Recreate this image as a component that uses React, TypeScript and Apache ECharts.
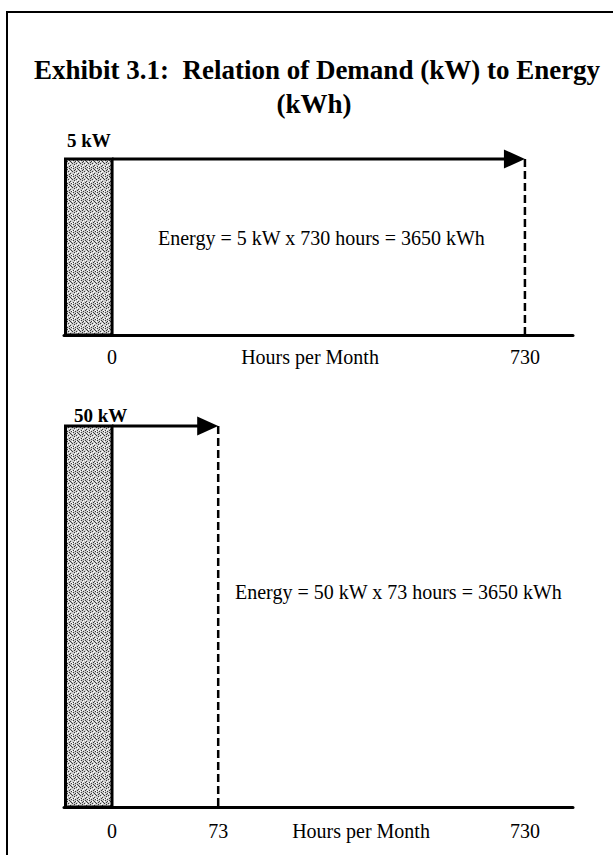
import React, { useEffect, useRef } from 'react';
import * as echarts from 'echarts';

// ---- data ----
const panelKeys = ['top', 'bottom'];
const demandKW = [5, 50];
const hoursUsed = [730, 73];
const energyKWh = [3650, 3650];
const topTickValues = [0, 730];
const bottomTickValues = [0, 73, 730];
const axisTitle = 'Hours per Month';
const titleLines = ['Exhibit 3.1:  Relation of Demand (kW) to Energy', '(kWh)'];

const SERIF = "'Liberation Serif', 'Times New Roman', serif";

function makeStipple(): string {
  const c = document.createElement('canvas');
  c.width = 8;
  c.height = 8;
  const ctx = c.getContext('2d');
  if (!ctx) return '';
  ctx.fillStyle = '#cccccc';
  ctx.fillRect(0, 0, 8, 8);
  const dark = [
    [1, 0], [5, 0], [3, 1], [7, 2], [0, 3], [4, 3], [2, 4], [6, 5],
    [1, 6], [5, 6], [3, 7], [7, 7], [6, 1], [2, 2],
  ];
  ctx.fillStyle = '#3a3a3a';
  dark.forEach(([x, y]) => ctx.fillRect(x, y, 1, 1));
  const light = [[0, 1], [4, 1], [6, 3], [3, 5], [0, 7], [5, 4], [7, 6], [2, 6]];
  ctx.fillStyle = '#ffffff';
  light.forEach(([x, y]) => ctx.fillRect(x, y, 1, 1));
  return c.toDataURL();
}

export default function App() {
  const ref = useRef<HTMLDivElement>(null);
  useEffect(() => {
    if (!ref.current) return;
    const chart = echarts.init(ref.current, undefined, { renderer: 'svg' });
    const stipple = makeStipple();
    const barFill: any = stipple ? { image: stipple, repeat: 'repeat' } : '#bcbcbc';

    const renderPanel = (params: any, api: any) => {
      const h = api.value(0);
      const kw = api.value(1);
      const cs = params.coordSys;
      const p0 = api.coord([0, kw]);
      const p1 = api.coord([h, kw]);
      const pb = api.coord([h, 0]);
      const b0 = api.coord([0, 0]);
      const headLen = 21;
      const headHalf = 9.5;
      return {
        type: 'group',
        children: [
          {
            type: 'rect',
            shape: { x: cs.x + 1.5, y: p0[1], width: p0[0] - cs.x - 1.5, height: b0[1] - p0[1] },
            style: { fill: barFill, stroke: '#000', lineWidth: 3 },
          },
          {
            type: 'line',
            shape: { x1: p0[0], y1: p0[1], x2: p1[0] - headLen + 2, y2: p1[1] },
            style: { stroke: '#000', lineWidth: 3 },
          },
          {
            type: 'polygon',
            shape: { points: [[p1[0], p1[1]], [p1[0] - headLen, p1[1] - headHalf], [p1[0] - headLen, p1[1] + headHalf]] },
            style: { fill: '#000' },
          },
          {
            type: 'line',
            shape: { x1: p1[0], y1: p1[1], x2: pb[0], y2: pb[1] },
            style: { stroke: '#000', lineWidth: 2.5, lineDash: [8, 4] },
          },
        ],
      };
    };

    const labelStyle = { fontFamily: SERIF, fontSize: 20, color: '#000' };
    const bottomMin = -33;
    const bottomMax = 763;
    const kwNamePad = [3, 10];

    const option: any = {
      animation: false,
      backgroundColor: '#fff',
      grid: [
        { left: 64, right: 40, top: 159, height: 176 },
        { left: 64, right: 40, top: 426, height: 381 },
      ],
      xAxis: [
        {
          type: 'value', gridIndex: 0, min: -85, max: 815, position: 'bottom',
          axisLine: { show: true, onZero: false, lineStyle: { color: '#000', width: 3 } },
          axisTick: { show: false }, splitLine: { show: false },
          axisLabel: { customValues: topTickValues, margin: 12, ...labelStyle },
          name: axisTitle, nameLocation: 'middle', nameGap: 12, nameMoveOverlap: false,
          nameTextStyle: { ...labelStyle, verticalAlign: 'top', padding: [0, 17, 0, 0] },
        },
        {
          type: 'value', gridIndex: 1, min: bottomMin, max: bottomMax, position: 'bottom',
          breaks: [{ start: 80, end: 700, gap: '49.7%' }],
          breakArea: { show: false, itemStyle: { color: 'rgba(0,0,0,0)', borderColor: 'rgba(0,0,0,0)', borderWidth: 0 } },
          axisLine: { show: false, onZero: false },
          axisTick: { show: false }, splitLine: { show: false },
          axisLabel: { customValues: bottomTickValues, margin: 14, ...labelStyle },
          name: axisTitle, nameLocation: 'middle', nameGap: 14, nameMoveOverlap: false,
          nameTextStyle: { ...labelStyle, verticalAlign: 'top', padding: [0, 0, 0, 85] },
        },
        {
          type: 'value', gridIndex: 1, min: bottomMin, max: bottomMax, position: 'bottom',
          axisLine: { show: true, onZero: false, lineStyle: { color: '#000', width: 3 } },
          axisTick: { show: false }, splitLine: { show: false }, axisLabel: { show: false },
        },
      ],
      yAxis: panelKeys.map((_, i) => ({
        type: 'value', gridIndex: i, min: 0, max: demandKW[i], position: 'left',
        axisLine: { show: false, onZero: false }, axisTick: { show: false }, axisLabel: { show: false }, splitLine: { show: false },
        name: `${demandKW[i]} kW`, nameLocation: 'end', nameGap: i === 0 ? 9 : 1, nameMoveOverlap: false,
        nameTextStyle: { fontFamily: SERIF, fontSize: 19, fontWeight: 'bold', color: '#000', align: 'left', verticalAlign: 'bottom', padding: [0, 0, 0, kwNamePad[i]] },
      })),
      series: panelKeys.map((_, i) => ({
        type: 'custom', xAxisIndex: i, yAxisIndex: i, silent: true,
        data: [[hoursUsed[i], demandKW[i]]],
        renderItem: renderPanel,
      })),
      graphic: [
        {
          type: 'rect', silent: true, z: 0,
          shape: { x: 7, y: 12, width: 700, height: 900 },
          style: { fill: 'none', stroke: '#000', lineWidth: 2 },
        },
        {
          type: 'text', x: 317, y: 70,
          style: { text: titleLines[0], fontFamily: SERIF, fontSize: 27, fontWeight: 'bold', fill: '#000', textAlign: 'center', textVerticalAlign: 'middle' },
        },
        {
          type: 'text', x: 314, y: 104,
          style: { text: titleLines[1], fontFamily: SERIF, fontSize: 27, fontWeight: 'bold', fill: '#000', textAlign: 'center', textVerticalAlign: 'middle' },
        },
        {
          type: 'text', x: 158, y: 238,
          style: { text: `Energy = ${demandKW[0]} kW x ${hoursUsed[0]} hours = ${energyKWh[0]} kWh`, fontFamily: SERIF, fontSize: 20, fill: '#000', textAlign: 'left', textVerticalAlign: 'middle' },
        },
        {
          type: 'text', x: 235, y: 592,
          style: { text: `Energy = ${demandKW[1]} kW x ${hoursUsed[1]} hours = ${energyKWh[1]} kWh`, fontFamily: SERIF, fontSize: 20, fill: '#000', textAlign: 'left', textVerticalAlign: 'middle' },
        },
      ],
    };
    chart.setOption(option);
    return () => chart.dispose();
  }, []);
  return (
    <div
      ref={ref}
      style={{ position: 'absolute', left: 0, top: 0, width: 613, height: 855, background: '#fff' }}
    />
  );
}
